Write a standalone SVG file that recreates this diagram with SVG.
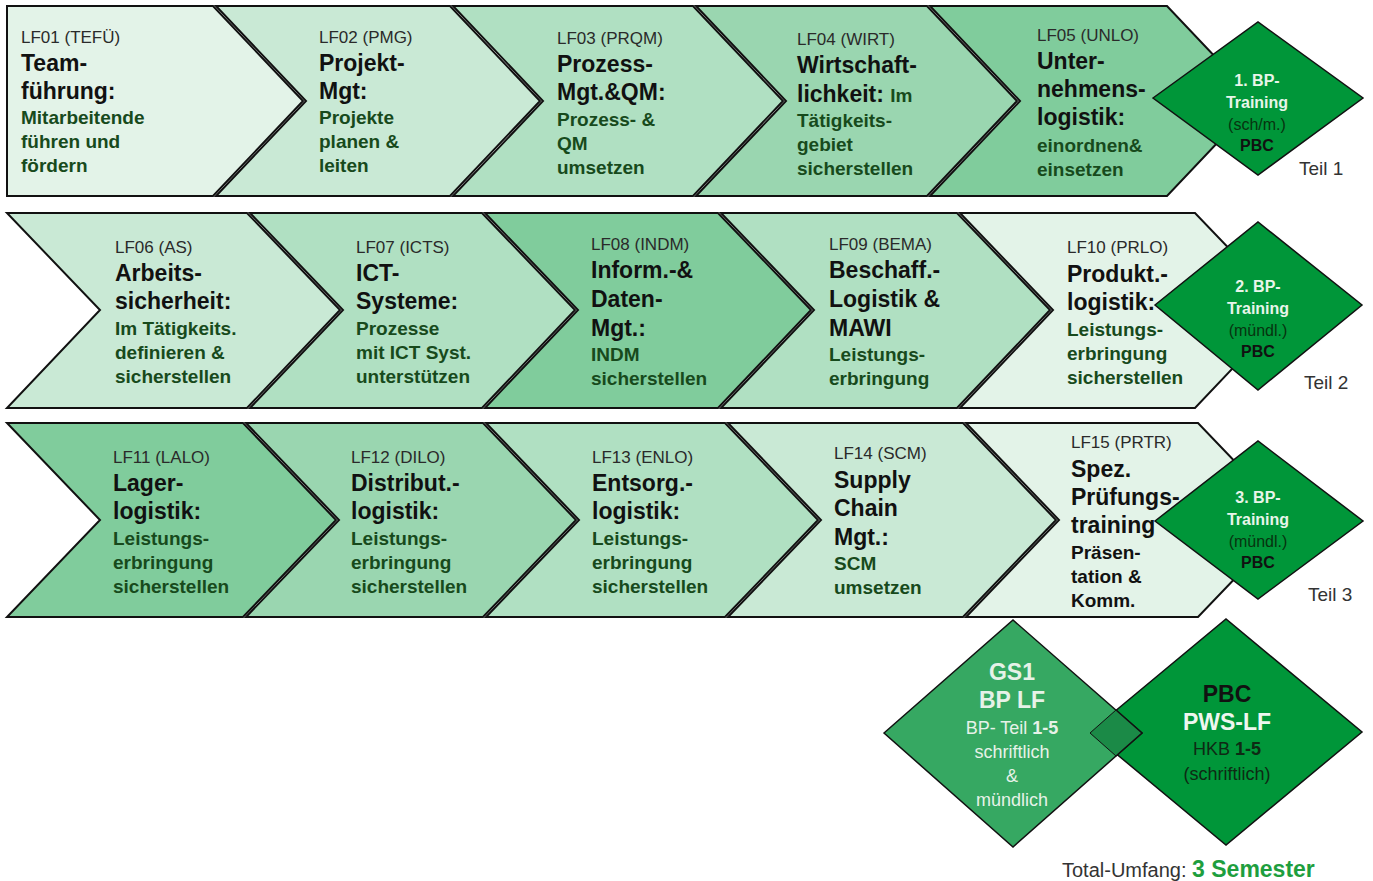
<svg xmlns="http://www.w3.org/2000/svg" width="1373" height="881" viewBox="0 0 1373 881">
<style>
text{font-family:"Liberation Sans",Arial,sans-serif}
.ch{stroke:#111;stroke-width:2;stroke-linejoin:miter}
.c1{fill:#e3f3e8}.c2{fill:#c9e9d5}.c3{fill:#b0e0c2}.c4{fill:#9ad6b0}.c5{fill:#80cc9c}
.code{font-size:17px;fill:#2a2a2a}
.ti{font-size:23px;font-weight:bold;fill:#111}
.su{font-size:19px;font-weight:bold;fill:#174a1c}
.sb{font-size:19px;font-weight:bold;fill:#111}
.dm{fill:#009639;stroke:#111;stroke-width:1.5}
.dw{font-size:16px;font-weight:bold;fill:#e8f5ea;text-anchor:middle}
.dg{font-size:16px;fill:#07330f;text-anchor:middle}
.dk{font-size:16px;font-weight:bold;fill:#111;text-anchor:middle}
.teil{font-size:19px;fill:#333}
</style>
<g id="row1">
<g id="LF01"><polygon class="ch c1" points="7,6 213,6 303,101 213,196 7,196"/>
<text class="code" x="21" y="43">LF01 (TEFÜ)</text>
<text class="ti" x="21" y="71">Team-</text><text class="ti" x="21" y="99">führung:</text>
<text class="su" x="21" y="124">Mitarbeitende</text><text class="su" x="21" y="148">führen und</text><text class="su" x="21" y="172">fördern</text></g>
<g id="LF02"><polygon class="ch c2" points="216,6 450,6 540,101 450,196 216,196 306,101"/>
<text class="code" x="319" y="43">LF02 (PMG)</text>
<text class="ti" x="319" y="71">Projekt-</text><text class="ti" x="319" y="99">Mgt:</text>
<text class="su" x="319" y="124">Projekte</text><text class="su" x="319" y="148">planen &amp;</text><text class="su" x="319" y="172">leiten</text></g>
<g id="LF03"><polygon class="ch c3" points="453,6 693,6 783,101 693,196 453,196 543,101"/>
<text class="code" x="557" y="44">LF03 (PRQM)</text>
<text class="ti" x="557" y="72">Prozess-</text><text class="ti" x="557" y="100">Mgt.&amp;QM:</text>
<text class="su" x="557" y="126">Prozess- &amp;</text><text class="su" x="557" y="150">QM</text><text class="su" x="557" y="174">umsetzen</text></g>
<g id="LF04"><polygon class="ch c4" points="696,6 927,6 1017,101 927,196 696,196 786,101"/>
<text class="code" x="797" y="45">LF04 (WIRT)</text>
<text class="ti" x="797" y="73">Wirtschaft-</text><text class="ti" x="797" y="102">lichkeit: <tspan class="su">Im</tspan></text>
<text class="su" x="797" y="127">Tätigkeits-</text><text class="su" x="797" y="151">gebiet</text><text class="su" x="797" y="175">sicherstellen</text></g>
<g id="LF05"><polygon class="ch c5" points="930,6 1167,6 1257,101 1167,196 930,196 1020,101"/>
<text class="code" x="1037" y="41">LF05 (UNLO)</text>
<text class="ti" x="1037" y="69">Unter-</text><text class="ti" x="1037" y="97">nehmens-</text><text class="ti" x="1037" y="125">logistik:</text>
<text class="su" x="1037" y="152">einordnen&amp;</text><text class="su" x="1037" y="176">einsetzen</text></g>
</g>
<g id="row2">
<g id="LF06"><polygon class="ch c2" points="7,213 247,213 340,310 247,408 7,408 100,310"/>
<text class="code" x="115" y="253">LF06 (AS)</text>
<text class="ti" x="115" y="281">Arbeits-</text><text class="ti" x="115" y="309">sicherheit:</text>
<text class="su" x="115" y="335">Im Tätigkeits.</text><text class="su" x="115" y="359">definieren &amp;</text><text class="su" x="115" y="383">sicherstellen</text></g>
<g id="LF07"><polygon class="ch c3" points="250,213 482,213 575,310 482,408 250,408 343,310"/>
<text class="code" x="356" y="253">LF07 (ICTS)</text>
<text class="ti" x="356" y="281">ICT-</text><text class="ti" x="356" y="309">Systeme:</text>
<text class="su" x="356" y="335">Prozesse</text><text class="su" x="356" y="359">mit ICT Syst.</text><text class="su" x="356" y="383">unterstützen</text></g>
<g id="LF08"><polygon class="ch c5" points="485,213 718,213 811,310 718,408 485,408 578,310"/>
<text class="code" x="591" y="250">LF08 (INDM)</text>
<text class="ti" x="591" y="278">Inform.-&amp;</text><text class="ti" x="591" y="307">Daten-</text><text class="ti" x="591" y="336">Mgt.:</text>
<text class="su" x="591" y="361">INDM</text><text class="su" x="591" y="385">sicherstellen</text></g>
<g id="LF09"><polygon class="ch c3" points="721,213 957,213 1050,310 957,408 721,408 814,310"/>
<text class="code" x="829" y="250">LF09 (BEMA)</text>
<text class="ti" x="829" y="278">Beschaff.-</text><text class="ti" x="829" y="307">Logistik &amp;</text><text class="ti" x="829" y="336">MAWI</text>
<text class="su" x="829" y="361">Leistungs-</text><text class="su" x="829" y="385">erbringung</text></g>
<g id="LF10"><polygon class="ch c1" points="960,213 1195,213 1288,310 1195,408 960,408 1053,310"/>
<text class="code" x="1067" y="253">LF10 (PRLO)</text>
<text class="ti" x="1067" y="282">Produkt.-</text><text class="ti" x="1067" y="310">logistik:</text>
<text class="su" x="1067" y="336">Leistungs-</text><text class="su" x="1067" y="360">erbringung</text><text class="su" x="1067" y="384">sicherstellen</text></g>
</g>
<g id="row3">
<g id="LF11"><polygon class="ch c5" points="7,423 243,423 336,520 243,617 7,617 100,520"/>
<text class="code" x="113" y="463">LF11 (LALO)</text>
<text class="ti" x="113" y="491">Lager-</text><text class="ti" x="113" y="519">logistik:</text>
<text class="su" x="113" y="545">Leistungs-</text><text class="su" x="113" y="569">erbringung</text><text class="su" x="113" y="593">sicherstellen</text></g>
<g id="LF12"><polygon class="ch c4" points="246,423 483,423 576,520 483,617 246,617 339,520"/>
<text class="code" x="351" y="463">LF12 (DILO)</text>
<text class="ti" x="351" y="491">Distribut.-</text><text class="ti" x="351" y="519">logistik:</text>
<text class="su" x="351" y="545">Leistungs-</text><text class="su" x="351" y="569">erbringung</text><text class="su" x="351" y="593">sicherstellen</text></g>
<g id="LF13"><polygon class="ch c3" points="486,423 725,423 818,520 725,617 486,617 579,520"/>
<text class="code" x="592" y="463">LF13 (ENLO)</text>
<text class="ti" x="592" y="491">Entsorg.-</text><text class="ti" x="592" y="519">logistik:</text>
<text class="su" x="592" y="545">Leistungs-</text><text class="su" x="592" y="569">erbringung</text><text class="su" x="592" y="593">sicherstellen</text></g>
<g id="LF14"><polygon class="ch c2" points="728,423 963,423 1056,520 963,617 728,617 821,520"/>
<text class="code" x="834" y="459">LF14 (SCM)</text>
<text class="ti" x="834" y="488">Supply</text><text class="ti" x="834" y="516">Chain</text><text class="ti" x="834" y="545">Mgt.:</text>
<text class="su" x="834" y="570">SCM</text><text class="su" x="834" y="594">umsetzen</text></g>
<g id="LF15"><polygon class="ch c1" points="966,423 1198,423 1291,520 1198,617 966,617 1059,520"/>
<text class="code" x="1071" y="448">LF15 (PRTR)</text>
<text class="ti" x="1071" y="477">Spez.</text><text class="ti" x="1071" y="505">Prüfungs-</text><text class="ti" x="1071" y="533">training</text>
<text class="sb" x="1071" y="559">Präsen-</text><text class="sb" x="1071" y="583">tation &amp;</text><text class="sb" x="1071" y="607">Komm.</text></g>
</g>
<g id="BP1"><polygon class="dm" points="1153,98 1258,22 1363,98 1258,175"/>
<text class="dw" x="1257" y="86">1. BP-</text><text class="dw" x="1257" y="108">Training</text>
<text class="dg" x="1257" y="130">(sch/m.)</text><text class="dk" x="1257" y="151">PBC</text></g>
<g id="BP2"><polygon class="dm" points="1155,305 1258,222 1362,305 1258,390"/>
<text class="dw" x="1258" y="292">2. BP-</text><text class="dw" x="1258" y="314">Training</text>
<text class="dg" x="1258" y="336">(mündl.)</text><text class="dk" x="1258" y="357">PBC</text></g>
<g id="BP3"><polygon class="dm" points="1155,521 1258,441 1363,521 1258,599"/>
<text class="dw" x="1258" y="503">3. BP-</text><text class="dw" x="1258" y="525">Training</text>
<text class="dg" x="1258" y="547">(mündl.)</text><text class="dk" x="1258" y="568">PBC</text></g>
<g id="labels">
<text class="teil" x="1299" y="175">Teil 1</text>
<text class="teil" x="1304" y="389">Teil 2</text>
<text class="teil" x="1308" y="601">Teil 3</text>
</g>
<g id="PBC-PWS"><polygon fill="#009639" stroke="#111" stroke-width="1.5" points="1090,732 1226,619 1362,732 1226,845"/>
<text x="1227" y="702" font-size="23" font-weight="bold" fill="#111" text-anchor="middle">PBC</text>
<text x="1227" y="730" font-size="23" font-weight="bold" fill="#eef7ef" text-anchor="middle">PWS-LF</text>
<text x="1227" y="755" font-size="18" fill="#0e2a14" text-anchor="middle">HKB <tspan font-weight="bold">1-5</tspan></text>
<text x="1227" y="780" font-size="18" fill="#0e2a14" text-anchor="middle">(schriftlich)</text></g>
<g id="GS1"><polygon fill="#36a862" stroke="#111" stroke-width="1.5" points="884,733 1013,620 1142,733 1013,847"/>
<polygon fill="#1b8a47" points="1090,733 1116,710 1142,733 1116,756"/>
<polyline fill="none" stroke="#111" stroke-width="1" points="1116,710 1090,733 1116,756"/>
<polyline fill="none" stroke="#111" stroke-width="1.5" points="1116,710 1142,733 1116,756"/>
<text x="1012" y="680" font-size="23" font-weight="bold" fill="#e6f2e8" text-anchor="middle">GS1</text>
<text x="1012" y="708" font-size="23" font-weight="bold" fill="#e6f2e8" text-anchor="middle">BP LF</text>
<text x="1012" y="734" font-size="18" fill="#e6f2e8" text-anchor="middle">BP- Teil <tspan font-weight="bold">1-5</tspan></text>
<text x="1012" y="758" font-size="18" fill="#e6f2e8" text-anchor="middle">schriftlich</text>
<text x="1012" y="782" font-size="18" fill="#e6f2e8" text-anchor="middle">&amp;</text>
<text x="1012" y="806" font-size="18" fill="#e6f2e8" text-anchor="middle">mündlich</text></g>
<g id="total"><text x="1062" y="877" font-size="20" fill="#333">Total-Umfang: <tspan font-size="23" font-weight="bold" fill="#1e9e3e">3 Semester</tspan></text></g>
<g id="connectors"/>
</svg>
